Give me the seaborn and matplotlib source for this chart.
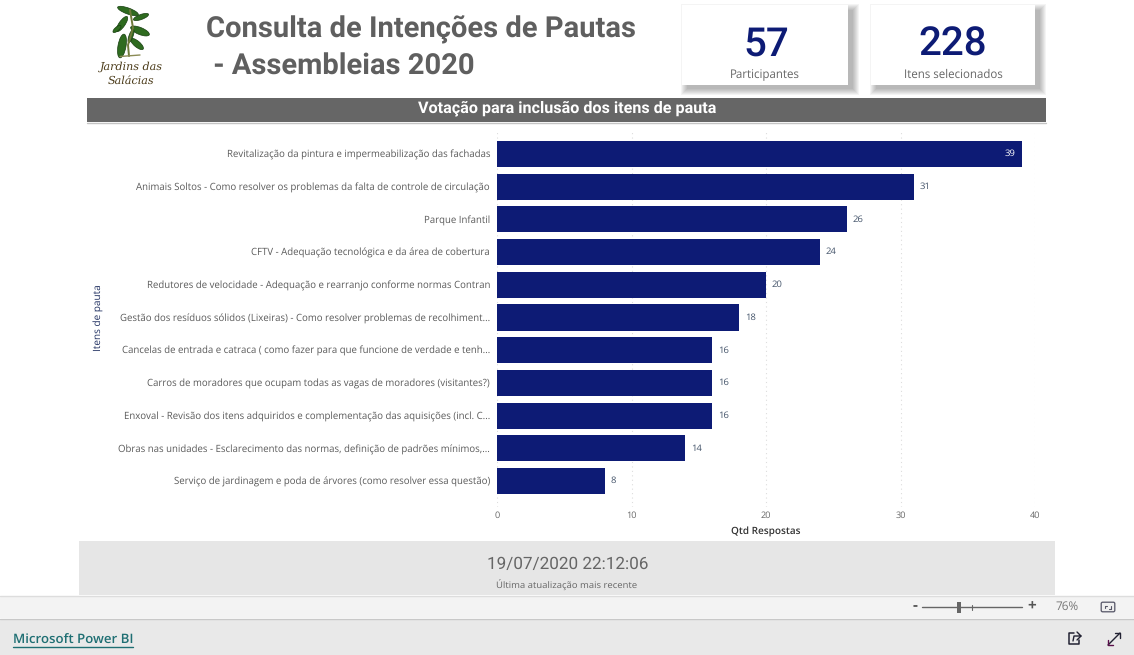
import matplotlib
matplotlib.use("Agg")
import matplotlib.pyplot as plt
from matplotlib.patches import Rectangle, Ellipse, FancyBboxPatch
import seaborn as sns
import pandas as pd

items = [
    "Revitalização da pintura e impermeabilização das fachadas",
    "Animais Soltos - Como resolver os problemas da falta de controle de circulação",
    "Parque Infantil",
    "CFTV - Adequação tecnológica e da área de cobertura",
    "Redutores de velocidade - Adequação e rearranjo conforme normas Contran",
    "Gestão dos resíduos sólidos (Lixeiras) - Como resolver problemas de recolhiment...",
    "Cancelas de entrada e catraca ( como fazer para que funcione de verdade e tenh...",
    "Carros de moradores que ocupam todas as vagas de moradores (visitantes?)",
    "Enxoval - Revisão dos itens adquiridos e complementação das aquisições (incl. C...",
    "Obras nas unidades - Esclarecimento das normas, definição de padrões mínimos,...",
    "Serviço de jardinagem e poda de árvores (como resolver essa questão)",
]
respostas = [39, 31, 26, 24, 20, 18, 16, 16, 16, 14, 8]
xticks = [0, 10, 20, 30, 40]

NAVY = "#0D1B75"
W, H = 1134, 655
sns.set_theme(style="white")
plt.rcParams["font.family"] = ["Open Sans", "DejaVu Sans"]
plt.rcParams["text.hinting"] = "no_hinting"

fig = plt.figure(figsize=(W / 100, H / 100), dpi=100, facecolor="white")

# page furniture, in pixel coordinates
bg = fig.add_axes([0, 0, 1, 1], zorder=0)
bg.set_xlim(0, W)
bg.set_ylim(H, 0)
bg.axis("off")


def box(x0, y0, x1, y1, color, **kw):
    bg.add_patch(Rectangle((x0, y0), x1 - x0, y1 - y0, facecolor=color, edgecolor="none", **kw))


box(87, 98, 1046, 122, "#666666")
bg.plot([87, 1046], [122.5, 122.5], color="#C4C4C4", lw=1)
box(79, 541, 1055, 595, "#E6E6E6")
box(0, 596, W, 618, "#F3F3F3")
bg.plot([0, W], [595.5, 595.5], color="#DDDDDD", lw=1)
box(0, 619, W, H, "#E9E9E9")
bg.plot([0, W], [618.5, 618.5], color="#C8C8C8", lw=1)

for x0, x1 in [(682, 848), (871, 1035)]:
    for g in range(6, -1, -1):
        box(x0 + 5 - g, 10 - g, x1 + 5 + g, 89 + g, "#000000", alpha=0.042)
    box(x0, 5, x1, 85, "white")

bg.text(206, 29.5, "Consulta de Intenções de Pautas", fontsize=21, fontweight="bold",
        family="Roboto", color="#5F5F5F", va="center", ha="left")
bg.text(206, 66.5, " - Assembleias 2020", fontsize=21, fontweight="bold",
        family="Roboto", color="#5F5F5F", va="center", ha="left")
bg.text(567, 108.5, "Votação para inclusão dos itens de pauta", fontsize=11.6, fontweight="bold",
        family="Roboto", color="white", va="center", ha="center")

bg.text(766, 44.5, "57", fontsize=29, family="Roboto", fontweight="medium", color=NAVY,
        va="center", ha="center")
bg.text(765, 75, "Participantes", fontsize=8.3, color="#666666", va="center", ha="center")
bg.text(953, 44.5, "228", fontsize=29, family="Roboto", fontweight="medium", color=NAVY,
        va="center", ha="center")
bg.text(953, 75, "Itens selecionados", fontsize=8.3, color="#666666", va="center", ha="center")

bg.text(568, 564, "19/07/2020 22:12:06", fontsize=12.3, family="Roboto", color="#666666",
        va="center", ha="center")
bg.text(567, 585, "Última atualização mais recente", fontsize=6.8, color="#666666",
        va="center", ha="center")

bg.text(13, 640, "Microsoft Power BI", fontsize=9.5, fontweight="semibold", color="#1F6F73",
        va="center", ha="left")
bg.plot([13, 133], [647, 647], color="#1F6F73", lw=1)

# zoom control
bg.text(915, 606.5, "-", fontsize=11, fontweight="bold", color="#555555", va="center", ha="center")
bg.plot([922, 1022], [607, 607], color="#666666", lw=1)
box(957, 602, 961, 613, "#666666")
bg.plot([972, 972], [604.5, 609.5], color="#666666", lw=0.8)
bg.text(1032, 606.5, "+", fontsize=11, fontweight="bold", color="#555555", va="center", ha="center")
bg.text(1067, 607, "76%", fontsize=8.5, color="#777777", va="center", ha="center")
bg.add_patch(FancyBboxPatch((1102, 603), 12, 8, boxstyle="round,pad=0.8,rounding_size=1.5",
                            facecolor="#EFEFEF", edgecolor="#555566", lw=0.9))
bg.plot([1105, 1105, 1107], [608, 605.5, 605.5], color="#555566", lw=0.8)
bg.plot([1111, 1111, 1109], [606, 608.5, 608.5], color="#555566", lw=0.8)

# share / expand icons
bg.plot([1074, 1069, 1069, 1079, 1079], [633, 633, 644, 644, 640], color="#222233", lw=1.1)
bg.plot([1073, 1074, 1081, 1077], [641, 636, 636, 632], color="#222233", lw=1.0)
bg.plot([1081, 1077], [636, 640], color="#222233", lw=1.0)
bg.plot([1108, 1120], [645, 633], color="#222233", lw=1.0)
bg.plot([1115, 1120, 1120], [633, 633, 638], color="#222233", lw=1.0)
bg.plot([1108, 1108, 1113], [640, 645, 645], color="#5A0F4A", lw=1.0)

# logo
stem = "#4A3A18"
bg.plot([130, 133, 128, 129], [10, 28, 45, 56], color="#6E7A3A", lw=1.4)
bg.plot([120, 140], [56.5, 55], color="#8B8B55", lw=1)
for cx, cy, w, h, a in [
    (128, 11, 22, 6, 20), (141, 17, 16, 5, -20), (122, 24, 18, 6, 125),
    (140, 31, 20, 7, 22), (122, 46, 24, 8, 100), (137, 44, 16, 6, 40),
    (131, 36, 14, 4, 110), (117, 29, 10, 4, 140),
]:
    bg.add_patch(Ellipse((cx, cy), w, h, angle=a, facecolor="#2E6B1F", edgecolor="#173E10", lw=0.5))
bg.text(131, 67, "Jardins das", fontsize=8, style="italic", family="DejaVu Serif", color=stem,
        va="center", ha="center")
bg.text(131, 81, "Salácias", fontsize=8, style="italic", family="DejaVu Serif", color=stem,
        va="center", ha="center")

# chart
ax = fig.add_axes([497 / W, 1 - 507 / H, (1035 - 497) / W, (507 - 130) / H], zorder=2)
ax.patch.set_alpha(0)
df = pd.DataFrame({"Itens de pauta": items, "Qtd Respostas": respostas})
sns.barplot(data=df, y="Itens de pauta", x="Qtd Respostas", color=NAVY, saturation=1,
            width=0.8, linewidth=0, ax=ax, zorder=3)
ax.set_xlim(0, 40)
ax.set_ylim(10.795, -0.734)
ax.set_xticks(xticks)
ax.xaxis.grid(True, linestyle=(0, (1, 3)), color="#DDDDDD", lw=0.8)
ax.set_axisbelow(True)
for s in ax.spines.values():
    s.set_visible(False)
ax.tick_params(axis="both", length=0)
ax.tick_params(axis="x", labelsize=6.6, labelcolor="#666666", pad=3)
ax.tick_params(axis="y", labelsize=6.95, labelcolor="#5A5A5A", pad=5)
ax.set_xlabel("Qtd Respostas", fontsize=7.2, fontweight="semibold", color="#333333", labelpad=5)
ax.set_ylabel("")
bg.text(98, 318, "Itens de pauta", fontsize=7.2, fontweight="medium", color="#1F2F60", rotation=90,
        va="center", ha="center")

cont = ax.containers[0]
ax.bar_label(cont, labels=[str(respostas[0])] + [""] * (len(respostas) - 1), label_type="edge",
             padding=-12, fontsize=6.8, color="white")
ax.bar_label(cont, labels=[""] + [str(v) for v in respostas[1:]], label_type="edge",
             padding=4, fontsize=6.8, color="#44546A")

fig.savefig("out.png", dpi=100, facecolor="white")
